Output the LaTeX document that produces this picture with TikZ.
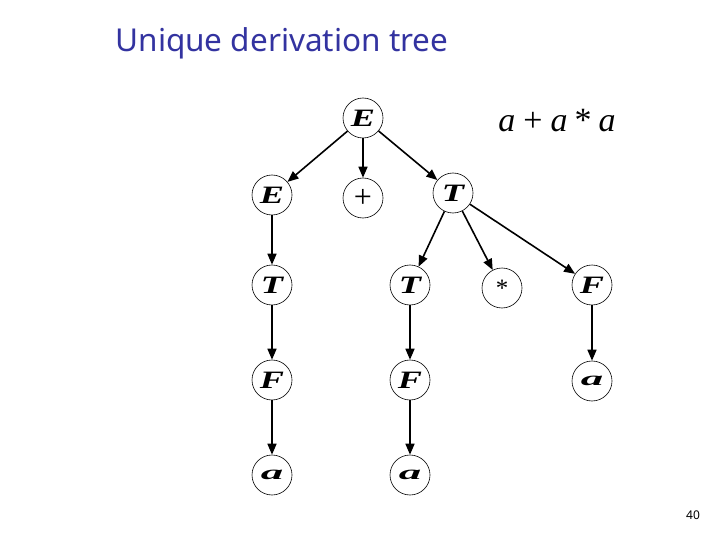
\documentclass[tikz,border=0pt]{standalone}
\usepackage{graphicx}
\usepackage{fontspec}
\setmainfont{Noto Sans}
\newfontfamily\lbl{Liberation Serif}
\usetikzlibrary{arrows.meta}
\definecolor{titleblue}{RGB}{51,51,160}
\newcommand{\lab}[1]{\scalebox{1.45}[1]{#1}}
\newcommand{\laba}{\scalebox{1.8}[0.8]{a}}
\begin{document}
\begin{tikzpicture}[x=1pt,y=-1pt,
  tnode/.style={draw,circle,minimum size=40pt,inner sep=0pt,line width=0.6pt,font=\lbl\bfseries\itshape\fontsize{25}{25}\selectfont},
  arr/.style={line width=1.6pt,-{Triangle[length=11pt,width=9pt]}}]
\useasboundingbox (0,0) rectangle (720,540);
\node[anchor=west,text=titleblue,font=\fontsize{31.5}{34}\selectfont] (title) at (112,43) {Unique derivation tree};
\node[font=\lbl\itshape\fontsize{34}{34}\selectfont] (expr) at (557,121) {a\hspace{8pt}{\upshape+}\hspace{8pt}a\hspace{7pt}{\upshape*}\hspace{7pt}a};
\node[font=\fontsize{12}{13}\selectfont] (pg) at (693,515) {40};
\node[tnode] (r) at (363,118) {\lab{E}};
\node[tnode] (e1) at (272,195) {\lab{E}};
\node[tnode] (plus) at (363,198) {\upshape\mdseries\fontsize{32}{32}\selectfont\raisebox{-3pt}{+}};
\node[tnode] (t1) at (453,193) {\lab{T}};
\node[tnode] (t2) at (272,285) {\lab{T}};
\node[tnode] (t3) at (410,285) {\lab{T}};
\node[tnode] (star) at (502,288) {\upshape\mdseries\raisebox{-4pt}{*}};
\node[tnode] (f1) at (592,285) {\lab{F}};
\node[tnode] (f2) at (272,380) {\lab{F}};
\node[tnode] (f3) at (410,380) {\lab{F}};
\node[tnode] (a1) at (592,381) {\laba};
\node[tnode] (a2) at (272,475) {\laba};
\node[tnode] (a3) at (410,475) {\laba};
\draw[arr] (r) -- (e1);
\draw[arr] (r) -- (plus);
\draw[arr] (r) -- (t1);
\draw[arr] (t1) -- (t3);
\draw[arr] (t1) -- (star);
\draw[arr] (t1) -- (f1);
\draw[arr] (e1) -- (t2);
\draw[arr] (t2) -- (f2);
\draw[arr] (f2) -- (a2);
\draw[arr] (t3) -- (f3);
\draw[arr] (f3) -- (a3);
\draw[arr] (f1) -- (a1);
\end{tikzpicture}
\end{document}
